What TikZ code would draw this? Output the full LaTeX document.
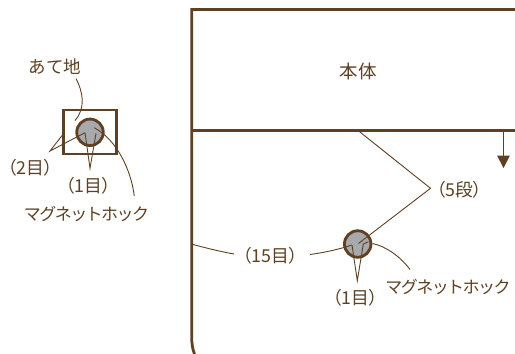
\documentclass[tikz,border=0pt]{standalone}
\usepackage{fontspec}
\setmainfont{Noto Sans CJK JP}[Scale=1]
\definecolor{br}{HTML}{5E4023}
\definecolor{gy}{HTML}{A7A9AC}
\tikzset{
  wall/.style={draw=br,line width=2.8pt},
  hole/.style={circle,draw=br,fill=gy,line width=2.8pt,minimum size=26.5pt,inner sep=0pt},
  leader/.style={draw=br,line width=0.9pt},
  lab/.style={text=br,font=\fontsize{18.5pt}{20pt}\selectfont\addfontfeatures{Weight=Light},inner sep=0pt},
  paren/.style={text=br,font=\fontsize{17.8pt}{20pt}\selectfont\addfontfeatures{Weight=Light,RawFeature=+palt},inner sep=0pt},
  katakana/.style={text=br,font=\fontsize{17pt}{19pt}\selectfont\addfontfeatures{Weight=Light,LetterSpace=-9},inner sep=0pt}
}
\begin{document}
\begin{tikzpicture}[x=1pt,y=-1pt]
\useasboundingbox (0,0) rectangle (515,354);
% body
\draw[wall] (515,9.5) -- (191.7,9.5) -- (191.7,336) .. controls (191.7,344) and (192.5,349) .. (194.5,354);
\draw[wall] (191.7,130.3) -- (515,130.3);
\node[lab] (body) at (358,71) {本体};
\coordinate (ar0) at (503.5,131);
\coordinate (ar1) at (503.5,168);
\draw[draw=br,line width=1.4pt] (ar0) -- (503.5,160);
\fill[br] (ar1) -- (497,155.5) -- (510,155.5) -- cycle;
% left
\node[draw=br,line width=2.8pt,minimum width=52.5pt,minimum height=44pt,inner sep=0pt] (plate) at (90,132) {};
\node[hole] (h1) at (90,132.3) {};
\node[lab,font=\fontsize{17.5pt}{19pt}\selectfont\addfontfeatures{Weight=Light}] (at) at (55,66.5) {あて地};
\node[paren] (two) at (30,167.5) {（2目）};
\node[paren] (one) at (88,186) {（1目）};
\node[katakana] (mag) at (86.5,214) {マグネットホック};
\coordinate (a1) at (76,78.5);
\coordinate (a2) at (75,120.5);
\draw[leader] (a1) .. controls (83,92) and (86,108) .. (a2);
\coordinate (t0) at (50,151);
\coordinate (t1) at (63.3,134);
\coordinate (t2) at (85,132.7);
\draw[leader] (t1) -- (t0) -- (t2);
\coordinate (o0) at (90,168.3);
\coordinate (o2) at (96,133.3);
\draw[leader] (t2) -- (o0) -- (o2);
\coordinate (m0) at (134.3,196);
\coordinate (m1) at (94.3,127.7);
\draw[leader] (m0) .. controls (131,170) and (117,140) .. (m1);
% right
\node[hole] (h2) at (357.7,244) {};
\node[paren] (five) at (459.5,189.5) {（5段）};
\node[paren] (fift) at (270.5,256) {（15目）};
\node[paren] (one2) at (355.5,297.5) {（1目）};
\node[katakana] (mag2) at (448,286.5) {マグネットホック};
\coordinate (f0) at (358.3,130.7);
\coordinate (f1) at (430.5,188.3);
\coordinate (f2) at (358.5,243.5);
\draw[leader] (f0) -- (f1) -- (f2);
\coordinate (w0) at (192.3,244.3);
\coordinate (w1) at (234,254);
\draw[leader] (w0) .. controls (206,248) and (220,251.5) .. (w1);
\coordinate (w2) at (310,254.5);
\coordinate (w3) at (352,245);
\draw[leader] (w2) .. controls (325,252.5) and (340,249) .. (w3);
\coordinate (n0) at (357.3,280.7);
\coordinate (n2) at (363.3,244);
\coordinate (n3) at (368.5,241.7);
\draw[leader] (w3) -- (n0) -- (n2) -- (n3);
\coordinate (g0) at (410,269.5);
\coordinate (g1) at (372.5,243.5);
\draw[leader] (g0) .. controls (400,256) and (385,246) .. (g1);
\end{tikzpicture}
\end{document}
